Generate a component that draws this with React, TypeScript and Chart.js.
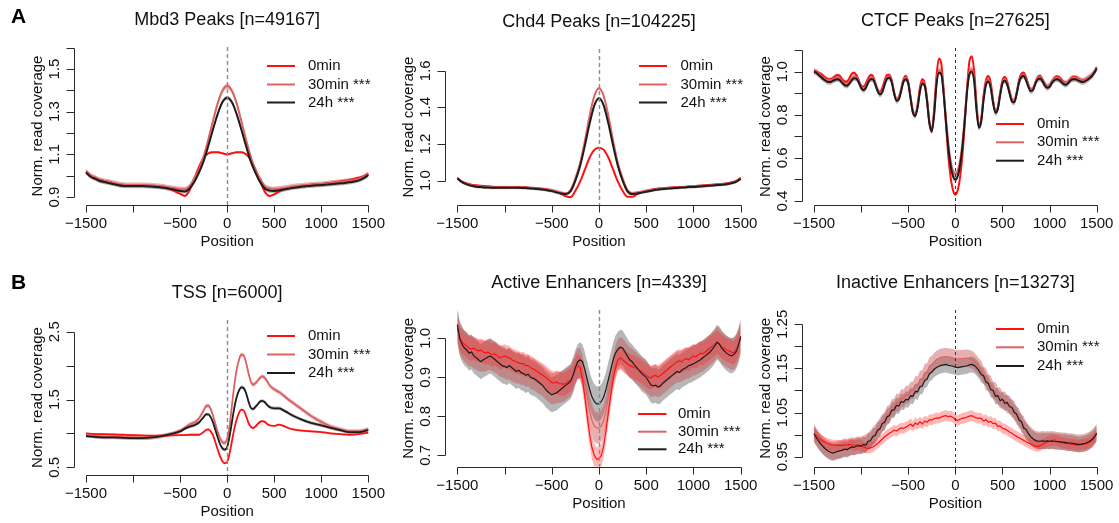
import React, { useEffect, useRef } from "react";
import { Chart, registerables } from "chart.js";
Chart.register(...registerables);

const W = 1119;
const H = 523;
const FONT = '"Liberation Sans", Arial, Helvetica, sans-serif';

// ---------- categories / positions ----------
const POS_50 = [
  -1500, -1450, -1400, -1350, -1300, -1250, -1200, -1150, -1100, -1050,
  -1000, -950, -900, -850, -800, -750, -700, -650, -600, -550,
  -500, -450, -400, -350, -300, -250, -200, -150, -100, -50,
  0,
  50, 100, 150, 200, 250, 300, 350, 400, 450, 500,
  550, 600, 650, 700, 750, 800, 850, 900, 950, 1000,
  1050, 1100, 1150, 1200, 1250, 1300, 1350, 1400, 1450, 1500,
];

const POS_25 = [
  -1500, -1475, -1450, -1425, -1400, -1375, -1350, -1325, -1300, -1275,
  -1250, -1225, -1200, -1175, -1150, -1125, -1100, -1075, -1050, -1025,
  -1000, -975, -950, -925, -900, -875, -850, -825, -800, -775,
  -750, -725, -700, -675, -650, -625, -600, -575, -550, -525,
  -500, -475, -450, -425, -400, -375, -350, -325, -300, -275,
  -250, -225, -200, -175, -150, -125, -100, -75, -50, -25,
  0,
  25, 50, 75, 100, 125, 150, 175, 200, 225, 250,
  275, 300, 325, 350, 375, 400, 425, 450, 475, 500,
  525, 550, 575, 600, 625, 650, 675, 700, 725, 750,
  775, 800, 825, 850, 875, 900, 925, 950, 975, 1000,
  1025, 1050, 1075, 1100, 1125, 1150, 1175, 1200, 1225, 1250,
  1275, 1300, 1325, 1350, 1375, 1400, 1425, 1450, 1475, 1500,
];

const POS_TSS = [
  -1500, -1400, -1300, -1200, -1100, -1000, -900, -800, -700, -600,
  -500, -450, -400, -350, -300, -250,
  -225, -200, -175, -150, -125, -100, -75, -50, -25, 0,
  25, 50, 75, 100, 125, 150, 175, 200, 225, 250,
  275, 300, 325, 350, 375, 400, 425, 450,
  500, 550, 600, 650, 700,
  800, 900, 1000, 1100, 1200, 1300, 1400, 1500,
];

const SERIES_LABELS = ["0min", "30min ***", "24h ***"];
const X_TICKS = [-1500, -1000, -500, 0, 500, 1000, 1500];
const X_LABELS = ["\u22121500", "", "\u2212500", "0", "500", "1000", "1500"];

// ---------- A1: Mbd3 peaks ----------
const A1_0MIN = [
  1.02, 1.0, 0.99, 0.98, 0.975, 0.97, 0.963, 0.957, 0.953, 0.952,
  0.952, 0.953, 0.953, 0.952, 0.951, 0.95, 0.947, 0.942, 0.935, 0.925,
  0.915, 0.905, 0.93, 0.985, 1.04, 1.085, 1.105, 1.11, 1.11, 1.105,
  1.1,
  1.105, 1.11, 1.11, 1.1, 1.075, 1.03, 0.975, 0.925, 0.905, 0.912,
  0.925, 0.935, 0.942, 0.946, 0.949, 0.952, 0.955, 0.957, 0.959, 0.96,
  0.963, 0.966, 0.97, 0.973, 0.976, 0.98, 0.985, 0.99, 0.997, 1.01,
];
const A1_30MIN = [
  1.02, 1.0, 0.99, 0.98, 0.975, 0.97, 0.965, 0.96, 0.957, 0.956,
  0.956, 0.956, 0.956, 0.955, 0.954, 0.952, 0.95, 0.947, 0.943, 0.94,
  0.937, 0.936, 0.95, 0.985, 1.027, 1.09, 1.17, 1.257, 1.34, 1.398,
  1.42,
  1.398, 1.34, 1.257, 1.17, 1.09, 1.027, 0.985, 0.95, 0.94, 0.937,
  0.939, 0.942, 0.946, 0.949, 0.952, 0.954, 0.956, 0.958, 0.96, 0.961,
  0.963, 0.966, 0.969, 0.971, 0.973, 0.976, 0.98, 0.985, 0.994, 1.008,
];
const A1_24H = [
  1.015, 0.995, 0.985, 0.975, 0.97, 0.965, 0.96, 0.955, 0.952, 0.951,
  0.951, 0.951, 0.951, 0.95, 0.949, 0.947, 0.945, 0.942, 0.938, 0.933,
  0.928, 0.926, 0.94, 0.97, 1.014, 1.068, 1.14, 1.218, 1.29, 1.345,
  1.365,
  1.345, 1.29, 1.218, 1.14, 1.068, 1.014, 0.97, 0.94, 0.93, 0.928,
  0.931, 0.935, 0.939, 0.943, 0.946, 0.949, 0.951, 0.953, 0.955, 0.956,
  0.958, 0.96, 0.962, 0.964, 0.966, 0.969, 0.973, 0.978, 0.988, 1.003,
];
const A1_BANDS = [0.005, 0.012, 0.01];
const A1_Y_TICKS = [0.9, 1.0, 1.1, 1.2, 1.3, 1.4, 1.5, 1.6];
const A1_Y_LABELS = ["0.9", "", "1.1", "", "1.3", "", "1.5", ""];

// ---------- A2: Chd4 peaks ----------
const A2_0MIN = [
  1.015, 0.995, 0.985, 0.978, 0.975, 0.972, 0.97, 0.968, 0.966, 0.965,
  0.965, 0.966, 0.966, 0.965, 0.964, 0.962, 0.96, 0.958, 0.956, 0.952,
  0.947, 0.94, 0.928, 0.915, 0.91, 0.945, 0.995, 1.06, 1.125, 1.168,
  1.18,
  1.168, 1.125, 1.06, 0.995, 0.945, 0.912, 0.912, 0.925, 0.936, 0.944,
  0.95, 0.955, 0.958, 0.96, 0.962, 0.963, 0.965, 0.966, 0.968, 0.97,
  0.972, 0.974, 0.976, 0.978, 0.98, 0.982, 0.985, 0.99, 0.998, 1.015,
];
const A2_30MIN = [
  1.015, 0.995, 0.983, 0.975, 0.97, 0.968, 0.966, 0.965, 0.964, 0.964,
  0.964, 0.965, 0.965, 0.964, 0.963, 0.962, 0.96, 0.958, 0.955, 0.952,
  0.948, 0.942, 0.935, 0.93, 0.95, 1.013, 1.096, 1.216, 1.352, 1.462,
  1.505,
  1.462, 1.352, 1.216, 1.096, 1.013, 0.95, 0.932, 0.935, 0.94, 0.945,
  0.95, 0.954, 0.957, 0.959, 0.961, 0.962, 0.964, 0.965, 0.967, 0.968,
  0.97, 0.972, 0.974, 0.976, 0.978, 0.98, 0.983, 0.988, 0.996, 1.012,
];
const A2_24H = [
  1.012, 0.992, 0.98, 0.972, 0.967, 0.965, 0.963, 0.962, 0.961, 0.961,
  0.961, 0.962, 0.962, 0.961, 0.96, 0.959, 0.957, 0.955, 0.952, 0.948,
  0.943, 0.936, 0.93, 0.927, 0.943, 1.0, 1.08, 1.19, 1.31, 1.41,
  1.45,
  1.41, 1.31, 1.19, 1.08, 1.0, 0.943, 0.927, 0.93, 0.935, 0.94,
  0.945, 0.95, 0.953, 0.956, 0.958, 0.96, 0.962, 0.963, 0.965, 0.966,
  0.968, 0.97, 0.972, 0.974, 0.976, 0.978, 0.981, 0.986, 0.994, 1.01,
];
const A2_BANDS = [0.004, 0.008, 0.008];
const A2_Y_TICKS = [1.0, 1.2, 1.4, 1.6];
const A2_Y_LABELS = ["1.0", "1.2", "1.4", "1.6"];

// ---------- A3: CTCF peaks ----------
const A3_0MIN = [
  1.005, 1.0, 0.995, 0.99, 0.98, 0.972, 0.965, 0.965, 0.97, 0.98,
  0.985, 0.98, 0.965, 0.955, 0.955, 0.97, 0.99, 0.995, 0.985, 0.96,
  0.935, 0.93, 0.945, 0.97, 0.985, 0.98, 0.95, 0.915, 0.905, 0.925,
  0.96, 0.985, 0.985, 0.96, 0.9, 0.87, 0.88, 0.92, 0.965, 0.98,
  0.95, 0.88, 0.81, 0.8, 0.85, 0.93, 0.965, 0.945, 0.87, 0.76,
  0.72, 0.83, 0.98, 1.06, 1.04, 0.92, 0.76, 0.61, 0.51, 0.45,
  0.43,
  0.45, 0.51, 0.61, 0.76, 0.93, 1.05, 1.07, 1.0, 0.85, 0.745,
  0.78, 0.89, 0.96, 0.98, 0.95, 0.87, 0.815, 0.83, 0.9, 0.96,
  0.975, 0.955, 0.91, 0.87, 0.86, 0.9, 0.96, 0.99, 0.995, 0.975,
  0.94, 0.915, 0.92, 0.95, 0.975, 0.98, 0.965, 0.945, 0.93, 0.935,
  0.955, 0.97, 0.978, 0.975, 0.965, 0.952, 0.948, 0.955, 0.968, 0.975,
  0.975, 0.97, 0.962, 0.96, 0.962, 0.968, 0.975, 0.985, 1.0, 1.02,
];
const A3_30MIN = [
  1.003, 0.998, 0.99, 0.98, 0.972, 0.965, 0.96, 0.96, 0.965, 0.97,
  0.972, 0.967, 0.955, 0.945, 0.942, 0.952, 0.967, 0.977, 0.975, 0.957,
  0.932, 0.922, 0.932, 0.957, 0.972, 0.972, 0.947, 0.917, 0.902, 0.912,
  0.947, 0.975, 0.979, 0.957, 0.907, 0.872, 0.879, 0.917, 0.962, 0.972,
  0.952, 0.882, 0.817, 0.802, 0.842, 0.917, 0.952, 0.942, 0.867, 0.768,
  0.735, 0.81, 0.95, 1.005, 1.0, 0.912, 0.785, 0.67, 0.587, 0.54,
  0.525,
  0.54, 0.587, 0.67, 0.79, 0.922, 1.0, 1.01, 0.965, 0.83, 0.75,
  0.778, 0.877, 0.947, 0.962, 0.932, 0.862, 0.817, 0.832, 0.897, 0.952,
  0.965, 0.947, 0.907, 0.869, 0.865, 0.902, 0.955, 0.982, 0.987, 0.967,
  0.937, 0.917, 0.922, 0.952, 0.972, 0.975, 0.962, 0.942, 0.932, 0.937,
  0.955, 0.967, 0.972, 0.969, 0.959, 0.949, 0.947, 0.955, 0.967, 0.972,
  0.972, 0.967, 0.962, 0.959, 0.962, 0.969, 0.977, 0.987, 1.0, 1.018,
];
const A3_24H = [
  1.0, 0.995, 0.985, 0.975, 0.965, 0.958, 0.952, 0.952, 0.958, 0.963,
  0.965, 0.96, 0.948, 0.938, 0.935, 0.945, 0.96, 0.97, 0.968, 0.95,
  0.925, 0.915, 0.925, 0.95, 0.965, 0.965, 0.94, 0.91, 0.895, 0.905,
  0.94, 0.968, 0.972, 0.95, 0.9, 0.865, 0.872, 0.91, 0.955, 0.965,
  0.945, 0.875, 0.81, 0.795, 0.835, 0.91, 0.945, 0.935, 0.86, 0.76,
  0.725, 0.8, 0.94, 0.995, 0.99, 0.9, 0.77, 0.65, 0.565, 0.515,
  0.5,
  0.515, 0.565, 0.65, 0.775, 0.91, 0.99, 1.0, 0.955, 0.82, 0.74,
  0.77, 0.87, 0.94, 0.955, 0.925, 0.855, 0.81, 0.825, 0.89, 0.945,
  0.958, 0.94, 0.9, 0.862, 0.858, 0.895, 0.948, 0.975, 0.98, 0.96,
  0.93, 0.91, 0.915, 0.945, 0.965, 0.968, 0.955, 0.935, 0.925, 0.93,
  0.948, 0.96, 0.965, 0.962, 0.952, 0.942, 0.94, 0.948, 0.96, 0.965,
  0.965, 0.96, 0.955, 0.952, 0.955, 0.962, 0.97, 0.98, 0.995, 1.015,
];
const A3_BANDS = [0.007, 0.013, 0.013];
const A3_Y_TICKS = [0.4, 0.5, 0.6, 0.7, 0.8, 0.9, 1.0, 1.1];
const A3_Y_LABELS = ["0.4", "", "0.6", "", "0.8", "", "1.0", ""];

// ---------- B1: TSS ----------
const B1_0MIN = [
  1.0, 0.99, 0.99, 0.985, 0.98, 0.975, 0.97, 0.965, 0.965, 0.97,
  0.975, 0.975, 0.98, 0.98, 0.98, 1.02,
  1.05, 1.06, 1.03, 0.97, 0.87, 0.76, 0.66, 0.59, 0.56, 0.58,
  0.7, 0.88, 1.06, 1.2, 1.3, 1.35, 1.34, 1.26, 1.16, 1.1,
  1.08, 1.1, 1.14, 1.17, 1.18, 1.17, 1.14, 1.12,
  1.11, 1.13, 1.11, 1.08, 1.06,
  1.04, 1.03, 1.02, 1.0, 0.99, 0.98, 0.99, 1.01,
];
const B1_30MIN = [
  0.98, 0.96, 0.95, 0.95, 0.945, 0.94, 0.935, 0.94, 0.96, 0.99,
  1.04, 1.08, 1.13, 1.16, 1.22, 1.34,
  1.4, 1.41, 1.36, 1.26, 1.14, 1.02, 0.93, 0.87, 0.86, 0.92,
  1.1, 1.4, 1.7, 1.93, 2.08, 2.16, 2.15, 2.05, 1.9, 1.77,
  1.72, 1.74, 1.78, 1.82, 1.84, 1.82, 1.77, 1.71,
  1.65, 1.61, 1.56, 1.5, 1.45,
  1.35, 1.25, 1.17, 1.1, 1.06, 1.03, 1.03, 1.06,
];
const B1_24H = [
  0.96, 0.95, 0.94, 0.94, 0.935, 0.93, 0.93, 0.94, 0.96, 0.99,
  1.03, 1.07, 1.1, 1.12, 1.16, 1.24,
  1.28, 1.28, 1.24, 1.16, 1.05, 0.94, 0.84, 0.78, 0.76, 0.8,
  0.95, 1.16, 1.37, 1.53, 1.63, 1.68, 1.67, 1.6, 1.48, 1.38,
  1.36, 1.39, 1.43, 1.47, 1.48, 1.46, 1.42, 1.39,
  1.37, 1.37, 1.34, 1.3, 1.26,
  1.2, 1.15, 1.12, 1.08, 1.05, 1.02, 1.02, 1.05,
];
const B1_BANDS = [0.015, 0.03, 0.025];
const B1_Y_TICKS = [0.5, 1.0, 1.5, 2.0, 2.5];
const B1_Y_LABELS = ["0.5", "", "1.5", "", "2.5"];

// ---------- B2: Active enhancers ----------
const B2_0MIN = [
  1.025, 1.0, 0.99, 0.985, 0.98, 0.975, 0.972, 0.975, 0.97, 0.968,
  0.97, 0.965, 0.962, 0.965, 0.96, 0.958, 0.96, 0.955, 0.95, 0.952,
  0.955, 0.952, 0.95, 0.945, 0.942, 0.94, 0.937, 0.935, 0.935, 0.93,
  0.93, 0.925, 0.922, 0.918, 0.914, 0.91, 0.906, 0.902, 0.897, 0.892,
  0.887, 0.885, 0.888, 0.884, 0.883, 0.882, 0.885, 0.89, 0.893, 0.905,
  0.92, 0.93, 0.925, 0.895, 0.85, 0.8, 0.755, 0.72, 0.7, 0.69,
  0.692,
  0.7, 0.725, 0.765, 0.81, 0.855, 0.895, 0.925, 0.945, 0.95, 0.945,
  0.94, 0.935, 0.93, 0.928, 0.925, 0.922, 0.918, 0.915, 0.91, 0.905,
  0.9, 0.898, 0.903, 0.905, 0.9, 0.905, 0.91, 0.915, 0.92, 0.925,
  0.93, 0.935, 0.94, 0.942, 0.94, 0.945, 0.948, 0.945, 0.95, 0.955,
  0.952, 0.958, 0.962, 0.96, 0.965, 0.97, 0.975, 0.98, 0.985, 0.99,
  0.985, 0.978, 0.975, 0.97, 0.968, 0.965, 0.963, 0.97, 0.985, 1.0,
];
const B2_30MIN = [
  1.03, 1.0, 0.988, 0.98, 0.975, 0.968, 0.968, 0.962, 0.96, 0.955,
  0.955, 0.955, 0.955, 0.958, 0.958, 0.955, 0.952, 0.948, 0.942, 0.94,
  0.937, 0.933, 0.935, 0.93, 0.926, 0.925, 0.924, 0.92, 0.921, 0.915,
  0.918, 0.91, 0.908, 0.905, 0.9, 0.896, 0.892, 0.886, 0.88, 0.875,
  0.871, 0.871, 0.874, 0.874, 0.876, 0.878, 0.882, 0.887, 0.891, 0.905,
  0.922, 0.935, 0.935, 0.918, 0.885, 0.85, 0.815, 0.79, 0.775, 0.77,
  0.77,
  0.775, 0.79, 0.815, 0.85, 0.885, 0.918, 0.942, 0.958, 0.963, 0.96,
  0.952, 0.945, 0.938, 0.934, 0.928, 0.923, 0.918, 0.912, 0.907, 0.902,
  0.895, 0.889, 0.89, 0.892, 0.888, 0.891, 0.897, 0.902, 0.907, 0.912,
  0.917, 0.922, 0.927, 0.927, 0.929, 0.933, 0.936, 0.937, 0.941, 0.945,
  0.945, 0.95, 0.953, 0.955, 0.96, 0.965, 0.97, 0.976, 0.982, 0.99,
  0.985, 0.976, 0.971, 0.966, 0.963, 0.96, 0.96, 0.967, 0.982, 1.002,
];
const B2_24H = [
  1.035, 1.0, 0.985, 0.975, 0.97, 0.962, 0.965, 0.955, 0.95, 0.945,
  0.94, 0.945, 0.948, 0.952, 0.955, 0.95, 0.945, 0.94, 0.935, 0.93,
  0.928, 0.925, 0.93, 0.925, 0.92, 0.915, 0.918, 0.912, 0.91, 0.905,
  0.908, 0.9, 0.898, 0.895, 0.89, 0.885, 0.88, 0.872, 0.865, 0.86,
  0.855, 0.858, 0.86, 0.865, 0.87, 0.875, 0.88, 0.885, 0.89, 0.905,
  0.925, 0.94, 0.945, 0.94, 0.92, 0.895, 0.87, 0.85, 0.838, 0.832,
  0.832,
  0.838, 0.85, 0.87, 0.895, 0.92, 0.945, 0.962, 0.972, 0.977, 0.975,
  0.965, 0.955, 0.945, 0.94, 0.932, 0.925, 0.918, 0.91, 0.905, 0.9,
  0.89, 0.88, 0.878, 0.88, 0.875, 0.878, 0.885, 0.89, 0.895, 0.9,
  0.905, 0.91, 0.915, 0.912, 0.918, 0.922, 0.925, 0.93, 0.932, 0.935,
  0.938, 0.942, 0.945, 0.95, 0.955, 0.96, 0.965, 0.972, 0.98, 0.99,
  0.985, 0.975, 0.968, 0.962, 0.958, 0.955, 0.958, 0.965, 0.98, 1.005,
];
const B2_BANDS = [0.03, 0.04, 0.045];
const B2_Y_TICKS = [0.7, 0.8, 0.9, 1.0];
const B2_Y_LABELS = ["0.7", "0.8", "0.9", "1.0"];

// ---------- B3: Inactive enhancers ----------
const B3_0MIN = [
  1.003, 0.998, 0.992, 0.988, 0.985, 0.982, 0.98, 0.978, 0.976, 0.977,
  0.975, 0.976, 0.975, 0.977, 0.976, 0.978, 0.977, 0.975, 0.976, 0.977,
  0.975, 0.972, 0.97, 0.969, 0.97, 0.972, 0.976, 0.98, 0.985, 0.99,
  0.995, 0.999, 1.003, 1.006, 1.01, 1.008, 1.012, 1.015, 1.014, 1.017,
  1.02, 1.024, 1.019, 1.026, 1.023, 1.029, 1.024, 1.031, 1.028, 1.034,
  1.033, 1.036, 1.038, 1.037, 1.04, 1.042, 1.043, 1.041, 1.042, 1.039,
  1.034,
  1.032, 1.035, 1.037, 1.038, 1.04, 1.042, 1.043, 1.04, 1.038, 1.037,
  1.037, 1.031, 1.034, 1.028, 1.03, 1.025, 1.026, 1.019, 1.02, 1.014,
  1.013, 1.01, 1.006, 1.003, 0.999, 0.996, 0.993, 0.99, 0.987, 0.984,
  0.981, 0.978, 0.976, 0.974, 0.973, 0.975, 0.978, 0.981, 0.984, 0.986,
  0.987, 0.988, 0.986, 0.984, 0.982, 0.981, 0.98, 0.98, 0.979, 0.978,
  0.977, 0.976, 0.977, 0.978, 0.979, 0.98, 0.983, 0.987, 0.993, 1.002,
];
const B3_30MIN = [
  1.003, 0.995, 0.987, 0.98, 0.975, 0.97, 0.967, 0.965, 0.963, 0.964,
  0.966, 0.967, 0.969, 0.971, 0.97, 0.972, 0.974, 0.973, 0.975, 0.976,
  0.976, 0.978, 0.981, 0.985, 0.99, 0.996, 1.003, 1.01, 1.018, 1.026,
  1.032, 1.045, 1.047, 1.06, 1.061, 1.073, 1.072, 1.083, 1.082, 1.091,
  1.09, 1.1, 1.1, 1.112, 1.112, 1.125, 1.126, 1.14, 1.142, 1.155,
  1.159, 1.165, 1.17, 1.173, 1.175, 1.176, 1.177, 1.176, 1.175, 1.174,
  1.172,
  1.171, 1.172, 1.172, 1.173, 1.173, 1.172, 1.17, 1.166, 1.16, 1.153,
  1.147, 1.134, 1.131, 1.117, 1.114, 1.1, 1.099, 1.087, 1.087, 1.076,
  1.078, 1.068, 1.069, 1.058, 1.057, 1.043, 1.04, 1.025, 1.022, 1.008,
  1.003, 0.997, 0.992, 0.989, 0.987, 0.987, 0.988, 0.987, 0.988, 0.987,
  0.988, 0.987, 0.986, 0.986, 0.985, 0.985, 0.984, 0.983, 0.983, 0.982,
  0.981, 0.98, 0.98, 0.981, 0.982, 0.984, 0.987, 0.991, 0.997, 1.004,
];
const B3_24H = [
  1.002, 0.993, 0.985, 0.978, 0.972, 0.967, 0.963, 0.96, 0.958, 0.96,
  0.962, 0.963, 0.965, 0.967, 0.966, 0.969, 0.972, 0.971, 0.974, 0.975,
  0.974, 0.978, 0.976, 0.985, 0.986, 0.996, 0.998, 1.01, 1.013, 1.025,
  1.028, 1.04, 1.043, 1.055, 1.056, 1.066, 1.065, 1.075, 1.073, 1.08,
  1.079, 1.088, 1.087, 1.098, 1.097, 1.109, 1.11, 1.123, 1.126, 1.138,
  1.142, 1.148, 1.152, 1.155, 1.157, 1.158, 1.159, 1.157, 1.156, 1.155,
  1.153,
  1.152, 1.153, 1.154, 1.155, 1.156, 1.158, 1.159, 1.157, 1.152, 1.145,
  1.136, 1.133, 1.119, 1.116, 1.102, 1.1, 1.087, 1.088, 1.077, 1.08,
  1.071, 1.073, 1.063, 1.062, 1.05, 1.047, 1.033, 1.03, 1.015, 1.012,
  1.002, 0.995, 0.99, 0.987, 0.985, 0.985, 0.986, 0.985, 0.986, 0.985,
  0.986, 0.985, 0.984, 0.984, 0.983, 0.983, 0.982, 0.981, 0.981, 0.98,
  0.979, 0.978, 0.978, 0.979, 0.98, 0.982, 0.985, 0.989, 0.995, 1.003,
];
const B3_BANDS = [0.012, 0.02, 0.018];
const B3_Y_TICKS = [0.95, 1.0, 1.05, 1.1, 1.15, 1.2, 1.25];
const B3_Y_LABELS = ["0.95", "", "1.05", "", "1.15", "", "1.25"];

// ---------- styling ----------
const LINE_COLORS = ["#ff1010", "#de6262", "#1c1c1c"];
const BAND_COLORS = ["rgba(255,30,30,0.32)", "rgba(200,80,80,0.45)", "rgba(95,95,95,0.45)"];
const AXIS_COLOR = "#2a2a2a";
const TEXT_COLOR = "#111";

type Panel = {
  title: string;
  letter?: string;
  letterY?: number;
  left: number; right: number; top: number; bottom: number;
  yMin: number; yMax: number;
  yTicks: number[]; yLabels: string[];
  pos: number[];
  series: number[][];
  bands: number[];
  legend: { x0: number; x1: number; tx: number; ys: number[] };
  lw: number;
  smooth: boolean;
  dash: { color: string; width: number; pattern: number[] };
};

const DASH_LIGHT = { color: "#8c8c8c", width: 1.4, pattern: [4, 3] };
const DASH_DARK = { color: "#333", width: 1, pattern: [3, 3] };

const PANELS: Panel[] = [
  {
    title: "Mbd3 Peaks [n=49167]", letter: "A", letterY: 17,
    left: 74.7, right: 379.6, top: 47, bottom: 205, yMin: 0.8625, yMax: 1.6032,
    yTicks: A1_Y_TICKS, yLabels: A1_Y_LABELS, pos: POS_50,
    series: [A1_0MIN, A1_30MIN, A1_24H], bands: A1_BANDS,
    legend: { x0: 267, x1: 295, tx: 308, ys: [66, 84.5, 102.5] }, lw: 2, smooth: true, dash: DASH_LIGHT,
  },
  {
    title: "Chd4 Peaks [n=104225]",
    left: 446.0, right: 752.0, top: 49, bottom: 205, yMin: 0.8674, yMax: 1.7185,
    yTicks: A2_Y_TICKS, yLabels: A2_Y_LABELS, pos: POS_50,
    series: [A2_0MIN, A2_30MIN, A2_24H], bands: A2_BANDS,
    legend: { x0: 639, x1: 667, tx: 680.5, ys: [66, 84.5, 102.5] }, lw: 2, smooth: true, dash: DASH_LIGHT,
  },
  {
    title: "CTCF Peaks [n=27625]",
    left: 802.7, right: 1108.0, top: 48, bottom: 205, yMin: 0.3814, yMax: 1.11,
    yTicks: A3_Y_TICKS, yLabels: A3_Y_LABELS, pos: POS_25,
    series: [A3_0MIN, A3_30MIN, A3_24H], bands: A3_BANDS,
    legend: { x0: 996, x1: 1024, tx: 1037, ys: [124, 142.3, 160.7] }, lw: 2, smooth: true, dash: DASH_DARK,
  },
  {
    title: "TSS [n=6000]", letter: "B", letterY: 283,
    left: 74.7, right: 379.6, top: 320, bottom: 475, yMin: 0.3864, yMax: 2.6726,
    yTicks: B1_Y_TICKS, yLabels: B1_Y_LABELS, pos: POS_TSS,
    series: [B1_0MIN, B1_30MIN, B1_24H], bands: B1_BANDS,
    legend: { x0: 267, x1: 295, tx: 308, ys: [336, 354.5, 373] }, lw: 1.8, smooth: true, dash: DASH_LIGHT,
  },
  {
    title: "Active Enhancers [n=4339]",
    left: 446.0, right: 752.0, top: 310, bottom: 466.7, yMin: 0.6708, yMax: 1.0726,
    yTicks: B2_Y_TICKS, yLabels: B2_Y_LABELS, pos: POS_25,
    series: [B2_0MIN, B2_30MIN, B2_24H], bands: B2_BANDS,
    legend: { x0: 638, x1: 666.5, tx: 678, ys: [414, 431.7, 449.3] }, lw: 1.2, smooth: false, dash: DASH_LIGHT,
  },
  {
    title: "Inactive Enhancers [n=13273]",
    left: 802.7, right: 1108.0, top: 310, bottom: 466.7, yMin: 0.9273, yMax: 1.2824,
    yTicks: B3_Y_TICKS, yLabels: B3_Y_LABELS, pos: POS_25,
    series: [B3_0MIN, B3_30MIN, B3_24H], bands: B3_BANDS,
    legend: { x0: 996, x1: 1024, tx: 1037, ys: [329, 347.3, 366] }, lw: 1.2, smooth: false, dash: DASH_DARK,
  },
];

function makeDecor(p: Panel) {
  return {
    id: "decor",
    afterDatasetsDraw(chart: any) {
      const ctx = chart.ctx as CanvasRenderingContext2D;
      const xs = chart.scales.x;
      const { top, bottom } = chart.chartArea;
      const x0 = Math.round(xs.getPixelForValue(0)) + 0.5;
      ctx.save();
      ctx.strokeStyle = p.dash.color;
      ctx.lineWidth = p.dash.width;
      ctx.setLineDash(p.dash.pattern);
      ctx.beginPath();
      ctx.moveTo(x0, top);
      ctx.lineTo(x0, bottom);
      ctx.stroke();
      ctx.restore();
    },
    afterDraw(chart: any) {
      const ctx = chart.ctx as CanvasRenderingContext2D;
      const xs = chart.scales.x;
      const ys = chart.scales.y;
      const { left, right, top, bottom } = chart.chartArea;
      ctx.save();
      ctx.strokeStyle = AXIS_COLOR;
      ctx.fillStyle = TEXT_COLOR;
      ctx.lineWidth = 1;
      ctx.setLineDash([]);

      // x axis
      const by = Math.round(bottom) + 0.5;
      const xa = Math.round(xs.getPixelForValue(X_TICKS[0])) + 0.5;
      const xb = Math.round(xs.getPixelForValue(X_TICKS[X_TICKS.length - 1])) + 0.5;
      ctx.beginPath();
      ctx.moveTo(xa, by);
      ctx.lineTo(xb, by);
      X_TICKS.forEach((t) => {
        const px = Math.round(xs.getPixelForValue(t)) + 0.5;
        ctx.moveTo(px, by);
        ctx.lineTo(px, by + 7);
      });
      ctx.stroke();
      ctx.font = `15px ${FONT}`;
      ctx.textAlign = "center";
      ctx.textBaseline = "middle";
      X_TICKS.forEach((t, i) => {
        if (!X_LABELS[i]) return;
        ctx.fillText(X_LABELS[i], xs.getPixelForValue(t), bottom + 19);
      });
      ctx.fillText("Position", (left + right) / 2, bottom + 37);

      // y axis
      const lx = Math.round(left) - 0.5;
      const ya = Math.round(ys.getPixelForValue(p.yTicks[0])) + 0.5;
      const yb = Math.round(ys.getPixelForValue(p.yTicks[p.yTicks.length - 1])) + 0.5;
      ctx.beginPath();
      ctx.moveTo(lx, ya);
      ctx.lineTo(lx, yb);
      p.yTicks.forEach((t) => {
        const py = Math.round(ys.getPixelForValue(t)) + 0.5;
        ctx.moveTo(lx, py);
        ctx.lineTo(lx - 8, py);
      });
      ctx.stroke();
      p.yTicks.forEach((t, i) => {
        if (!p.yLabels[i]) return;
        ctx.save();
        ctx.translate(left - 20, ys.getPixelForValue(t));
        ctx.rotate(-Math.PI / 2);
        ctx.fillText(p.yLabels[i], 0, 0);
        ctx.restore();
      });
      ctx.save();
      ctx.translate(left - 37, (top + bottom) / 2);
      ctx.rotate(-Math.PI / 2);
      ctx.fillText("Norm. read coverage", 0, 0);
      ctx.restore();

      // title
      ctx.font = `18px ${FONT}`;
      ctx.fillText(p.title, (left + right) / 2, top - 27);

      // panel letter
      if (p.letter) {
        ctx.font = `bold 21px ${FONT}`;
        ctx.textAlign = "left";
        ctx.fillStyle = "#000";
        ctx.fillText(p.letter, 11, p.letterY ?? top - 30);
      }

      // legend
      ctx.font = `15px ${FONT}`;
      ctx.textAlign = "left";
      ctx.fillStyle = TEXT_COLOR;
      SERIES_LABELS.forEach((lab, i) => {
        const y = p.legend.ys[i];
        ctx.strokeStyle = LINE_COLORS[i];
        ctx.lineWidth = 2;
        ctx.beginPath();
        ctx.moveTo(p.legend.x0, y);
        ctx.lineTo(p.legend.x1, y);
        ctx.stroke();
        ctx.fillText(lab, p.legend.tx, y);
      });
      ctx.restore();
    },
  };
}

function PanelChart({ p }: { p: Panel }) {
  const ref = useRef<HTMLCanvasElement | null>(null);
  useEffect(() => {
    if (!ref.current) return;
    const datasets: any[] = [];
    p.series.forEach((vals, i) => {
      const lower = vals.map((v, j) => ({ x: p.pos[j], y: v - p.bands[i] }));
      const upper = vals.map((v, j) => ({ x: p.pos[j], y: v + p.bands[i] }));
      const common = {
        pointRadius: 0,
        borderWidth: 0,
        borderColor: "rgba(0,0,0,0)",
        order: 10,
        cubicInterpolationMode: p.smooth ? "monotone" : "default",
        tension: 0,
      };
      datasets.push({ ...common, data: lower, fill: false });
      datasets.push({ ...common, data: upper, fill: "-1", backgroundColor: BAND_COLORS[i] });
    });
    p.series.forEach((vals, i) => {
      datasets.push({
        data: vals.map((v, j) => ({ x: p.pos[j], y: v })),
        borderColor: LINE_COLORS[i],
        borderWidth: p.lw,
        pointRadius: 0,
        fill: false,
        order: 2 - i,
        cubicInterpolationMode: p.smooth ? "monotone" : "default",
        tension: 0,
      });
    });
    const chart = new Chart(ref.current, {
      type: "line",
      data: { datasets },
      options: {
        animation: false,
        responsive: false,
        devicePixelRatio: 1,
        events: [],
        layout: { padding: { left: p.left, right: W - p.right, top: p.top, bottom: H - p.bottom } },
        plugins: {
          legend: { display: false },
          title: { display: false },
          tooltip: { enabled: false },
        },
        scales: {
          x: { type: "linear", min: -1620, max: 1620, display: false },
          y: { type: "linear", min: p.yMin, max: p.yMax, display: false },
        },
      } as any,
      plugins: [makeDecor(p)],
    });
    return () => chart.destroy();
  }, [p]);
  return (
    <canvas
      ref={ref}
      width={W}
      height={H}
      style={{ position: "absolute", left: 0, top: 0, width: W, height: H }}
    />
  );
}

export default function App() {
  return (
    <div
      style={{
        position: "fixed",
        left: 0,
        top: 0,
        width: W,
        height: H,
        background: "#fff",
        overflow: "hidden",
      }}
    >
      {PANELS.map((p, i) => (
        <PanelChart key={i} p={p} />
      ))}
    </div>
  );
}
